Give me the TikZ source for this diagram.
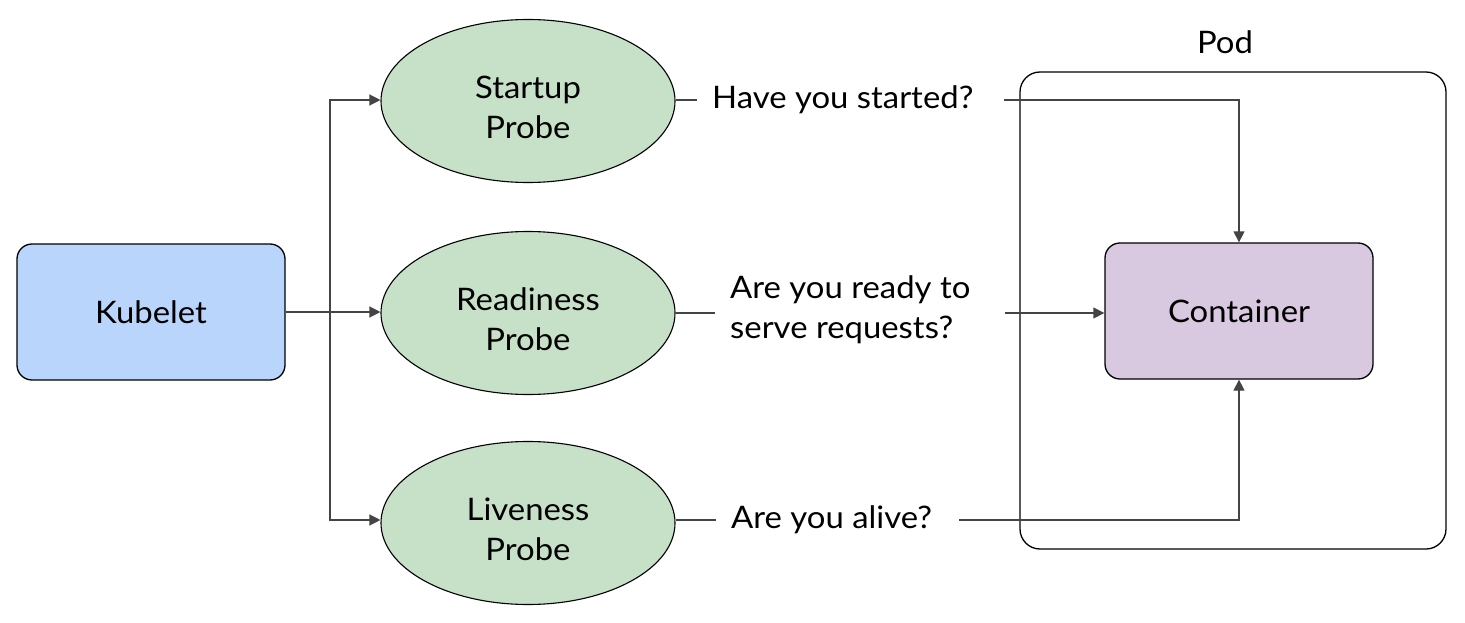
\documentclass[tikz,border=0pt]{standalone}
\usepackage{fontspec}
\setmainfont[FakeStretch=1.06]{Lato}
\usetikzlibrary{shapes.geometric,arrows.meta}
\definecolor{kubblue}{HTML}{BAD5FB}
\definecolor{probegreen}{HTML}{C7E0C8}
\definecolor{contpurple}{HTML}{D8C8E0}
\definecolor{linegray}{HTML}{444444}
\tikzset{
  x=1pt, y=1pt,
  txt/.style={font=\fontsize{31}{40}\selectfont, align=center},
  boxnode/.style={draw=black, line width=1.3pt, rounded corners=15pt, minimum width=268pt, minimum height=136pt, txt},
  probe/.style={ellipse, draw=black, line width=1.1pt, fill=probegreen, minimum width=294pt, minimum height=163pt, inner sep=0pt},
  probetext/.style={txt, yshift=-6pt},
  question/.style={txt, inner sep=0pt, inner xsep=15pt, align=left},
  conn/.style={draw=linegray, line width=1.3pt},
  arr/.style={conn, -{Triangle[length=11pt,width=11pt]}},
}
\begin{document}
\begin{tikzpicture}
\useasboundingbox (0,0) rectangle (1465,-623);
% pod
\node[draw=black, line width=1.3pt, rounded corners=20pt, minimum width=426pt, minimum height=477pt] (pod) at (1233,-310.5) {};
\node[txt] (podlabel) at (1225,-42) {Pod};
% main nodes
\node[boxnode, fill=kubblue] (kub) at (151,-312) {Kubelet};
\node[boxnode, fill=contpurple] (cont) at (1239,-311) {Container};
\node[probe, label={[probetext]center:Startup\\Probe}] (startup) at (528,-101) {};
\node[probe, label={[probetext]center:Readiness\\Probe}] (readiness) at (528,-313) {};
\node[probe, label={[probetext]center:Liveness\\Probe}] (liveness) at (528,-523) {};
% questions
\node[question, anchor=west] (q1) at (697,-100) {Have you started?};
\node[question, anchor=west] (q2) at (715,-310) {Are you ready to\\serve requests?};
\node[question, anchor=west] (q3) at (716,-520) {Are you alive?};
% kubelet connectors
\coordinate (split) at (330,-312);
\draw[arr] (kub.east) -- (readiness.west |- kub.east);
\draw[arr] (split) |- (startup.west |- q1.west);
\draw[arr] (split) |- (liveness.west |- q3.west);
% probe to question
\draw[conn] (startup.east |- q1.west) -- (q1.west);
\draw[conn] (readiness.east) -- (q2.west |- readiness.east);
\draw[conn] (liveness.east |- q3.west) -- (q3.west);
% question to container
\coordinate (q2out) at (1005,-313);
\draw[arr] ([xshift=15pt]q1.east) -| (cont.north);
\draw[arr] (q2out) -- (cont.west |- q2out);
\draw[arr] ([xshift=12pt]q3.east) -| (cont.south);
\end{tikzpicture}
\end{document}
